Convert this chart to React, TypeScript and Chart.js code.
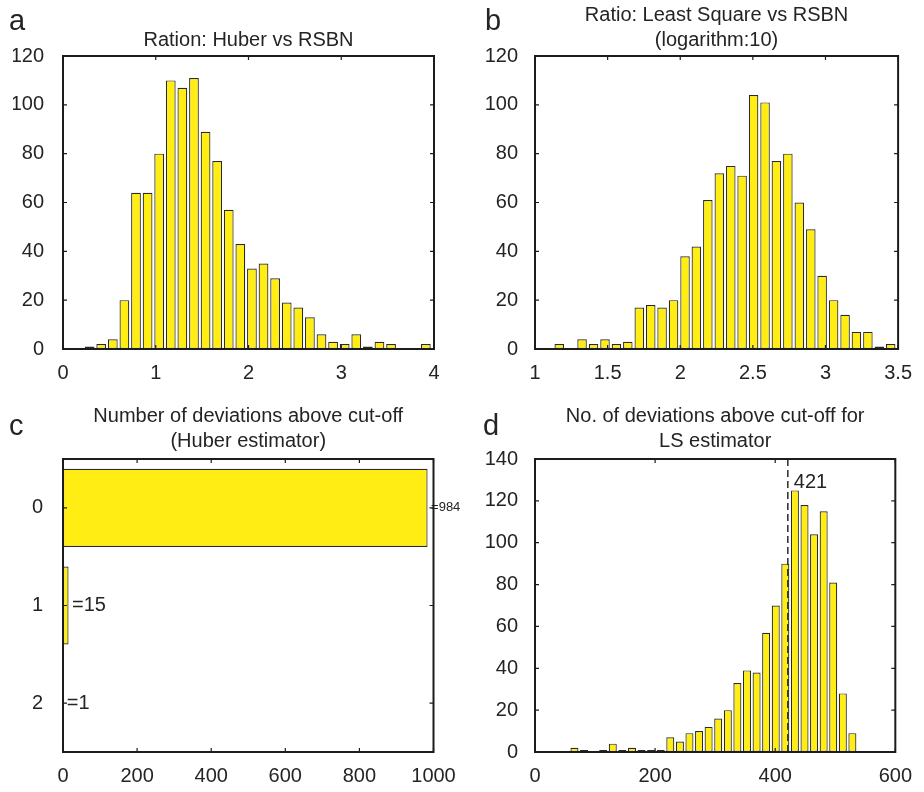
import React, { useEffect, useRef } from 'react';
import { Chart, registerables } from 'chart.js';

Chart.register(...registerables);

// ---------------- DATA ----------------
// a: Ratio Huber vs RSBN (histogram bin centres and counts)
const huberBins = [0.287, 0.412, 0.537, 0.662, 0.787, 0.912, 1.037, 1.162, 1.287, 1.412, 1.537, 1.662, 1.787, 1.912, 2.037, 2.162, 2.287, 2.412, 2.537, 2.662, 2.787, 2.912, 3.037, 3.162, 3.287, 3.412, 3.537, 3.662, 3.787, 3.912];
const huberCounts = [1, 2, 4, 20, 64, 64, 80, 110, 107, 111, 89, 77, 57, 43, 33, 35, 29, 19, 17, 13, 6, 3, 2, 6, 1, 3, 2, 0, 0, 2];

// b: Ratio Least Square vs RSBN (log10)
const lsBins = [1.167, 1.246, 1.324, 1.403, 1.482, 1.561, 1.639, 1.718, 1.797, 1.875, 1.954, 2.033, 2.111, 2.190, 2.269, 2.348, 2.426, 2.505, 2.584, 2.662, 2.741, 2.820, 2.899, 2.977, 3.056, 3.135, 3.213, 3.292, 3.371, 3.449];
const lsCounts = [2, 0, 4, 2, 4, 2, 3, 17, 18, 17, 20, 38, 42, 61, 72, 75, 71, 104, 101, 77, 80, 60, 49, 30, 20, 14, 7, 7, 1, 2];

// c: Number of deviations above cut-off (Huber)
const huberDevCategories = ['0', '1', '2'];
const huberDevCounts = [984, 15, 1];

// d: Number of deviations above cut-off (LS)
const lsDevBins = [65.7, 81.7, 97.6, 113.6, 129.5, 145.5, 161.5, 177.4, 193.4, 209.3, 225.3, 241.3, 257.2, 273.2, 289.1, 305.1, 321.1, 337.0, 353.0, 369.0, 384.9, 400.9, 416.8, 432.8, 448.8, 464.7, 480.7, 496.6, 512.6, 528.5];
const lsDevCounts = [2, 1, 0, 1, 4, 1, 2, 1, 1, 1, 7, 5, 9, 10, 12, 16, 20, 33, 39, 38, 57, 70, 90, 125, 118, 104, 115, 81, 28, 9];
const lsCutoff = 421;

// Axis ranges / tick steps
const axisA = { xMin: 0, xMax: 4, xStep: 1, yMin: 0, yMax: 120, yStep: 20 };
const axisB = { xMin: 1, xMax: 3.5, xStep: 0.5, yMin: 0, yMax: 120, yStep: 20 };
const axisC = { xMin: 0, xMax: 1000, xStep: 200 };
const axisD = { xMin: 0, xMax: 600, xStep: 200, yMin: 0, yMax: 140, yStep: 20 };

// Titles
const titleA = ['Ration: Huber vs RSBN'];
const titleB = ['Ratio: Least Square vs RSBN', '(logarithm:10)'];
const titleC = ['Number of deviations above cut-off', '(Huber estimator)'];
const titleD = ['No. of deviations above cut-off for', 'LS estimator'];

// ---------------- STYLE ----------------
const W = 924;
const H = 792;
const YAXIS_W = 50;
const XAXIS_H = 40;
const FONT = "'Liberation Sans', Arial, Helvetica, sans-serif";
const TEXT = '#242424';
const BAR_FILL = '#ffed14';
const BAR_EDGE = '#2a2a2a';

type Area = { left: number; top: number; right: number; bottom: number };

const decorPlugin = {
  id: 'panelDecor',
  afterDraw(chart: any, _args: any, opts: any) {
    const ctx = chart.ctx as CanvasRenderingContext2D;
    const { left, right, top, bottom } = chart.chartArea;
    ctx.save();

    // dashed reference line
    if (opts.refValue != null) {
      const x = chart.scales.x.getPixelForValue(opts.refValue);
      ctx.setLineDash([7, 4]);
      ctx.lineWidth = 1.5;
      ctx.strokeStyle = '#2a2a2a';
      ctx.beginPath();
      ctx.moveTo(x, bottom);
      ctx.lineTo(x, top);
      ctx.stroke();
      ctx.setLineDash([]);
      ctx.font = `20px ${FONT}`;
      ctx.fillStyle = TEXT;
      ctx.textAlign = 'left';
      ctx.textBaseline = 'alphabetic';
      ctx.fillText(String(opts.refValue), x + 6, top + 29);
    }

    // bar value labels
    if (opts.barLabelSizes) {
      const meta = chart.getDatasetMeta(0);
      meta.data.forEach((el: any, i: number) => {
        const v = chart.data.datasets[0].data[i];
        ctx.font = `${opts.barLabelSizes[i]}px ${FONT}`;
        ctx.textBaseline = 'middle';
        ctx.textAlign = 'left';
        ctx.fillStyle = TEXT;
        ctx.fillText('=' + v, el.x + 3.5, el.y);
      });
    }

    // axes box
    ctx.lineWidth = 2;
    ctx.strokeStyle = '#1c1c1c';
    ctx.strokeRect(left, top, right - left, bottom - top);

    // inward ticks on all four sides
    const tl = 4;
    ctx.lineWidth = 1.2;
    ctx.beginPath();
    const xs = chart.scales.x;
    xs.ticks.forEach((_t: any, i: number) => {
      const p = xs.getPixelForTick(i);
      ctx.moveTo(p, bottom);
      ctx.lineTo(p, bottom - tl);
      ctx.moveTo(p, top);
      ctx.lineTo(p, top + tl);
    });
    const ys = chart.scales.y;
    ys.ticks.forEach((_t: any, i: number) => {
      const p = ys.getPixelForTick(i);
      ctx.moveTo(left, p);
      ctx.lineTo(left + tl, p);
      ctx.moveTo(right, p);
      ctx.lineTo(right - tl, p);
    });
    ctx.stroke();

    // title
    ctx.fillStyle = TEXT;
    ctx.font = `20px ${FONT}`;
    ctx.textAlign = 'center';
    ctx.textBaseline = 'alphabetic';
    (opts.title as string[]).forEach((t, i) => {
      ctx.fillText(t, (left + right) / 2, top + opts.titleOffsets[i]);
    });

    // panel letter
    ctx.font = `29px ${FONT}`;
    ctx.textAlign = 'left';
    ctx.fillText(opts.letter, opts.letterX, opts.letterY);
    ctx.restore();
  },
};

function padFor(a: Area) {
  return {
    left: a.left - YAXIS_W,
    top: a.top,
    right: W - a.right,
    bottom: H - a.bottom - XAXIS_H,
  };
}

const tickFont = { family: FONT, size: 20 };
const fmt = (v: any) => String(v);

function linearAxis(min: number, max: number, step: number, isY: boolean, pad: number) {
  return {
    type: 'linear',
    min,
    max,
    offset: false,
    grid: { display: false, drawTicks: false, offset: false },
    border: { display: false },
    ticks: {
      stepSize: step,
      autoSkip: false,
      maxRotation: 0,
      padding: pad,
      color: TEXT,
      font: tickFont,
      callback: fmt,
    },
    afterFit: (s: any) => {
      if (isY) s.width = YAXIS_W;
      else s.height = XAXIS_H;
    },
  };
}

function histConfig(
  bins: number[],
  counts: number[],
  ax: { xMin: number; xMax: number; xStep: number; yMin: number; yMax: number; yStep: number },
  area: Area,
  yPad: number,
  decor: any
) {
  return {
    type: 'bar',
    data: {
      datasets: [
        {
          data: bins.map((x, i) => ({ x, y: counts[i] })),
          backgroundColor: BAR_FILL,
          borderColor: BAR_EDGE,
          borderWidth: 1.2,
          borderSkipped: false,
          barPercentage: 0.84,
          categoryPercentage: 1,
        },
      ],
    },
    options: {
      responsive: false,
      animation: false,
      devicePixelRatio: 1,
      layout: { padding: padFor(area) },
      plugins: { legend: { display: false }, tooltip: { enabled: false }, title: { display: false }, panelDecor: decor },
      scales: {
        x: linearAxis(ax.xMin, ax.xMax, ax.xStep, false, 12),
        y: linearAxis(ax.yMin, ax.yMax, ax.yStep, true, yPad),
      },
    },
    plugins: [decorPlugin],
  };
}

function hbarConfig(area: Area) {
  return {
    type: 'bar',
    data: {
      labels: huberDevCategories,
      datasets: [
        {
          data: huberDevCounts,
          backgroundColor: BAR_FILL,
          borderColor: BAR_EDGE,
          borderWidth: 1.2,
          borderSkipped: false,
          barPercentage: 1,
          categoryPercentage: 0.8,
        },
      ],
    },
    options: {
      indexAxis: 'y',
      responsive: false,
      animation: false,
      devicePixelRatio: 1,
      layout: { padding: padFor(area) },
      plugins: {
        legend: { display: false },
        tooltip: { enabled: false },
        title: { display: false },
        panelDecor: {
          title: titleC,
          titleOffsets: [-37.5, -12.5],
          letter: 'c',
          letterX: 9,
          letterY: 435,
          barLabelSizes: [13, 20, 20],
        },
      },
      scales: {
        x: linearAxis(axisC.xMin, axisC.xMax, axisC.xStep, false, 12),
        y: {
          type: 'category',
          offset: true,
          grid: { display: false, drawTicks: false, offset: true },
          border: { display: false },
          ticks: { padding: 20, color: TEXT, font: tickFont, autoSkip: false },
          afterFit: (s: any) => {
            s.width = YAXIS_W;
          },
        },
      },
    },
    plugins: [decorPlugin],
  };
}

const areaA: Area = { left: 63, top: 56, right: 434, bottom: 349 };
const areaB: Area = { left: 535, top: 56, right: 906, bottom: 349 };
const areaC: Area = { left: 63, top: 459, right: 433.5, bottom: 752 };
const areaD: Area = { left: 535, top: 459, right: 906, bottom: 752 };

function PanelCanvas({ makeConfig }: { makeConfig: () => any }) {
  const ref = useRef<HTMLCanvasElement | null>(null);
  useEffect(() => {
    if (!ref.current) return;
    const chart = new Chart(ref.current, makeConfig());
    return () => chart.destroy();
  }, []);
  return (
    <canvas
      ref={ref}
      width={W}
      height={H}
      style={{ position: 'absolute', left: 0, top: 0, width: W, height: H }}
    />
  );
}

export default function App() {
  return (
    <div style={{ position: 'absolute', left: 0, top: 0, width: W, height: H, background: '#fff' }}>
      <PanelCanvas
        makeConfig={() =>
          histConfig(huberBins, huberCounts, axisA, areaA, 19, {
            title: titleA,
            titleOffsets: [-10],
            letter: 'a',
            letterX: 9,
            letterY: 30,
          })
        }
      />
      <PanelCanvas
        makeConfig={() =>
          histConfig(lsBins, lsCounts, axisB, areaB, 17, {
            title: titleB,
            titleOffsets: [-35.3, -10.3],
            letter: 'b',
            letterX: 485,
            letterY: 30,
          })
        }
      />
      <PanelCanvas makeConfig={() => hbarConfig(areaC)} />
      <PanelCanvas
        makeConfig={() =>
          histConfig(lsDevBins, lsDevCounts, axisD, areaD, 17, {
            title: titleD,
            titleOffsets: [-37.5, -12.5],
            letter: 'd',
            letterX: 483,
            letterY: 435,
            refValue: lsCutoff,
          })
        }
      />
    </div>
  );
}
